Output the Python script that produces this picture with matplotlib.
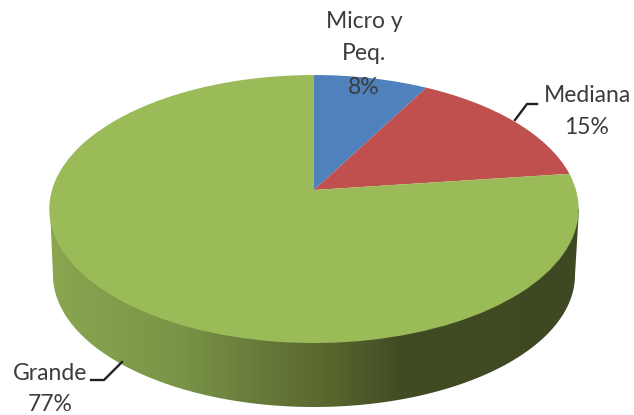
import numpy as np
import matplotlib
matplotlib.use("Agg")
import matplotlib.pyplot as plt
from matplotlib.colors import LinearSegmentedColormap
from matplotlib.patches import Polygon
from matplotlib.transforms import Transform

# data
labels = ["Micro y\nPeq.", "Mediana", "Grande"]
shares = [8, 15, 77]
colors = ["#4f81bd", "#c0504d", "#9bbb59"]

# figure constants (pixels)
W, H = 634, 415
CX, CY = 314, 190
A, B, K = 262, 131.3, 0.142
TEXT_COLOR = "#3c3c3c"

plt.rcParams["font.family"] = ["Lato", "DejaVu Sans"]


class TiltTransform(Transform):
    """Unit circle seen in perspective, so the pie centre sits above the ellipse centre"""
    input_dims = 2
    output_dims = 2
    is_separable = False

    def transform_non_affine(self, values):
        values = np.asarray(values, dtype=float)
        w = 1 + K * values[:, 1]
        return np.column_stack((CX + A * values[:, 0] / w, CY - B * values[:, 1] / w))


fig = plt.figure(figsize=(W / 100, H / 100), dpi=100)
ax = fig.add_axes([0, 0, 1, 1])

# side wall: dark gradient clipped to the bottom outline
t = np.radians(np.linspace(180, 360, 200))
wall_x = 314 + 261 * np.cos(t)
wall_y = 275 - 132 * np.sin(t)
outline = np.column_stack((np.r_[50, wall_x, 579], np.r_[209, wall_y, 209]))
clip = Polygon(outline, closed=True, transform=ax.transData, fc="none", ec="none")
ax.add_patch(clip)

wall_cmap = LinearSegmentedColormap.from_list(
    "wall",
    [(0.0, "#8aa650"), (0.25, "#7a9347"), (0.4, "#67793a"), (0.52, "#5a682f"),
     (0.66, "#414c24"), (1.0, "#3e4822")],
)
img = ax.imshow(
    np.linspace(0, 1, 256).reshape(1, -1),
    extent=(50, 580, 415, 190),
    cmap=wall_cmap,
    aspect="auto",
    interpolation="bilinear",
)
img.set_clip_path(clip)

# top face
wedges, _ = ax.pie(shares, colors=colors, startangle=90, counterclock=False, radius=1)
tilt = TiltTransform()
for wedge in wedges:
    wedge.set_transform(tilt + ax.transData)
    wedge.set_linewidth(0)

ax.set_aspect("auto")
ax.set_xlim(0, W)
ax.set_ylim(H, 0)
ax.axis("off")

# leader lines
ax.plot([515, 527, 537], [120, 104, 104], color="#222222", lw=1.7)
ax.plot([122, 104, 91], [362, 380, 380], color="#222222", lw=1.7)

# labels
fs = 16.5
ax.text(364, 22, labels[0].split("\n")[0], ha="center", va="center", fontsize=fs, color=TEXT_COLOR)
ax.text(364, 54, labels[0].split("\n")[1], ha="center", va="center", fontsize=fs, color=TEXT_COLOR)
ax.text(364, 87, f"{shares[0]}%", ha="center", va="center", fontsize=fs, color=TEXT_COLOR)
ax.text(588, 95, labels[1], ha="center", va="center", fontsize=fs, color=TEXT_COLOR)
ax.text(587, 127, f"{shares[1]}%", ha="center", va="center", fontsize=fs, color=TEXT_COLOR)
ax.text(50, 373, labels[2], ha="center", va="center", fontsize=fs, color=TEXT_COLOR)
ax.text(50, 404, f"{shares[2]}%", ha="center", va="center", fontsize=fs, color=TEXT_COLOR)

fig.savefig("out.png", dpi=100)
plt.close(fig)
